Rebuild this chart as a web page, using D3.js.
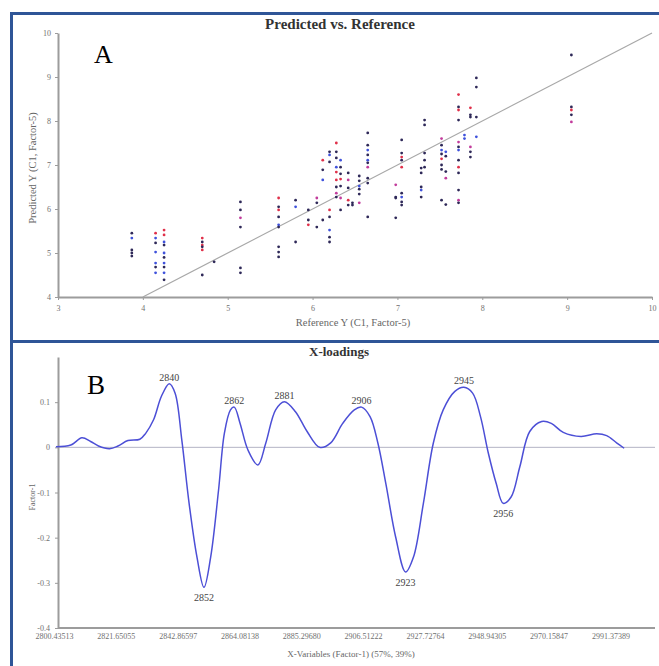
<!DOCTYPE html>
<html>
<head>
<meta charset="utf-8">
<script src="https://cdn.jsdelivr.net/npm/d3@7"></script>
<style>
  body { margin: 0; background: #fff; }
  text { font-family: "Liberation Serif", "DejaVu Serif", serif; }
</style>
</head>
<body>
<svg id="vis-svg" width="659" height="666"></svg>
<script>
// ---- Panel A: predicted vs reference (one column of predictions per reference value)
const refValues = [3.87, 4.15, 4.25, 4.7, 4.84, 5.15, 5.6, 5.8, 5.95, 6.05, 6.12, 6.2, 6.28, 6.33,
  6.42, 6.47, 6.55, 6.65, 6.98, 7.05, 7.28, 7.32, 7.52, 7.57, 7.72, 7.79, 7.86, 7.93, 9.05];
const predValues = [
  [5.45, 5.34, 5.07, 5.0, 4.93],
  [5.45, 5.34, 5.23, 5.02, 4.77, 4.68, 4.55],
  [5.52, 5.41, 5.25, 5.18, 5.0, 4.9, 4.77, 4.68, 4.55, 4.39],
  [5.34, 5.25, 5.18, 5.14, 5.07, 4.5],
  [4.8],
  [6.16, 5.98, 5.8, 5.59, 4.66, 4.55],
  [6.25, 6.05, 5.98, 5.82, 5.64, 5.59, 5.14, 5.02, 4.91],
  [6.2, 6.05, 5.25],
  [5.98, 5.75, 5.64],
  [6.25, 6.14, 5.59],
  [7.11, 6.89, 6.66, 5.75],
  [7.3, 7.23, 7.07, 5.98, 5.82, 5.52, 5.36, 5.25],
  [7.5, 7.3, 7.16, 6.95, 6.84, 6.66, 6.5, 6.36, 6.27],
  [7.11, 6.95, 6.8, 6.68, 6.52, 6.25, 5.98],
  [6.82, 6.66, 6.48, 6.2, 6.09],
  [6.14, 6.09],
  [6.75, 6.64, 6.52, 6.45, 6.34, 6.14],
  [7.73, 7.45, 7.34, 7.23, 7.11, 7.05, 6.95, 6.7, 6.59, 5.82],
  [6.55, 6.27, 6.25, 5.8],
  [7.57, 7.27, 7.18, 7.11, 6.95, 6.36, 6.27, 6.16, 6.09],
  [6.93, 6.82, 6.5, 6.43, 6.27],
  [8.02, 7.91, 7.27, 7.11, 6.95],
  [7.6, 7.45, 7.34, 7.25, 7.14, 7.0, 6.9, 6.2],
  [7.3, 7.2, 6.85, 6.7, 6.1],
  [8.6, 8.32, 8.25, 8.02, 7.52, 7.41, 7.34, 7.11, 6.95, 6.82, 6.43, 6.2, 6.14],
  [7.68, 7.6],
  [8.3, 8.14, 8.09, 7.41, 7.3, 7.18],
  [8.98, 8.77, 8.09, 7.64],
  [9.5, 8.32, 8.25, 8.14, 7.98]
];
// one letter per point: r red, m magenta, b blue, k dark
const pointColours = ['kbkkk', 'rbkbbkb', 'rrbkbkbkbk', 'rkrkrk', 'k', 'kkmkkk', 'rkrkbkkkk', 'kbk',
  'kkr', 'mkk', 'rkbk', 'kbkrkbkk', 'rkkbrrkmk', 'bkkrkmk', 'kmkrk', 'kk', 'kkbkkm', 'kkbkbkmkkk',
  'mkkk', 'kkrkrkbkk', 'kkkbk', 'kkkkk', 'mkbkrkkk', 'bkkmk', 'rkrkmkbkrkkmk', 'bb', 'rkkmkk', 'kkkb', 'kkrkm'];
const colourKey = { r: '#e0304a', m: '#c23c9c', b: '#3f52dc', k: '#2e2858' };
const xTicksA = [3, 4, 5, 6, 7, 8, 9, 10];
const yTicksA = [4, 5, 6, 7, 8, 9, 10];
const targetLine = [4, 10];

// ---- Panel B: X-loadings, factor 1
const waveNumbers = [2801.1, 2806.2, 2810, 2813, 2815.7, 2819.5, 2822.4, 2825.8, 2829.9, 2831.9,
  2834.6, 2837.3, 2840, 2842, 2844.3, 2846.8, 2849.5, 2851.9, 2854.2, 2856.9, 2858.9, 2861, 2862.3,
  2864.3, 2867, 2870.4, 2873.1, 2876.5, 2879.5, 2883.3, 2887.3, 2891.6, 2895.4, 2899.5, 2903.5, 2906,
  2908.9, 2911.6, 2914.3, 2917.7, 2921.1, 2923.8, 2927.2, 2930.6, 2934, 2938, 2941.1, 2944.1, 2946.8,
  2949.5, 2952.2, 2954.6, 2957.3, 2960.3, 2963.7, 2967.8, 2971.1, 2975.2, 2981.3, 2986.7, 2990.1,
  2993.5, 2996.1];
const loadings = [0.0015, 0.005, 0.021, 0.013, 0.003, -0.003, 0.003, 0.015, 0.018, 0.031,
  0.061, 0.113, 0.141, 0.12, 0.016, -0.124, -0.243, -0.31, -0.243, -0.095, 0.031, 0.083, 0.089,
  0.053, -0.006, -0.039, 0.009, 0.083, 0.101, 0.079, 0.035, 0, 0.01, 0.053, 0.083, 0.089,
  0.068, 0.009, -0.08, -0.199, -0.276, -0.243, -0.124, 0.009, 0.083, 0.124, 0.133, 0.12, 0.068,
  -0.013, -0.08, -0.124, -0.11, -0.043, 0.035, 0.057, 0.053, 0.033, 0.024, 0.03, 0.026,
  0.01, -0.002];
const peakLabels = ['2840', '2852', '2862', '2881', '2906', '2923', '2945', '2956'];
const xTickLabelsB = ['2800.43513', '2821.65055', '2842.86597', '2864.08138', '2885.29680',
  '2906.51222', '2927.72764', '2948.94305', '2970.15847', '2991.37389'];
const yTicksB = [0.1, 0, -0.1, -0.2, -0.3, -0.4];

const svg = d3.select('#vis-svg');
const serif = '"Liberation Serif", "DejaVu Serif", serif';
const axisGrey = '#9c9c9c';

function styleAxis(g) {
  g.attr('font-family', serif);
  g.select('.domain').attr('stroke', axisGrey).attr('stroke-width', 2);
  g.selectAll('.tick line').attr('stroke', axisGrey);
  g.selectAll('.tick text').attr('fill', '#707070').style('font-size', '8px');
}

// ---------------- Panel A
const xA = d3.scaleLinear().domain([3, 10]).range([58, 652]);
const yA = d3.scaleLinear().domain([4, 10]).range([297, 33]);

svg.append('g')
    .attr('transform', 'translate(0,297)')
    .call(d3.axisBottom(xA).tickValues(xTicksA).tickFormat(d3.format('d'))
      .tickSize(3).tickSizeOuter(0).tickPadding(5))
    .call(styleAxis);

svg.append('g')
    .attr('transform', 'translate(58,0)')
    .call(d3.axisLeft(yA).tickValues(yTicksA).tickFormat(d3.format('d'))
      .tickSize(3).tickSizeOuter(0).tickPadding(4))
    .call(styleAxis);

svg.append('line')
    .attr('x1', xA(targetLine[0])).attr('y1', yA(targetLine[0]))
    .attr('x2', xA(targetLine[1])).attr('y2', yA(targetLine[1]))
    .attr('stroke', '#a8a8a8').attr('stroke-width', 1.2);

const points = [];
refValues.forEach((ref, i) => {
  predValues[i].forEach((p, j) => points.push({ x: ref, y: p, c: pointColours[i][j] }));
});

svg.append('g').selectAll('circle')
    .data(points)
    .enter().append('circle')
    .attr('cx', d => xA(d.x))
    .attr('cy', d => yA(d.y))
    .attr('r', 1.4)
    .attr('fill', d => colourKey[d.c]);

svg.append('text')
    .attr('x', 340).attr('y', 29)
    .attr('text-anchor', 'middle')
    .style('font-size', '15px').style('font-weight', 'bold')
    .attr('fill', '#333')
    .text('Predicted vs. Reference');

svg.append('text')
    .attr('x', 353).attr('y', 326)
    .attr('text-anchor', 'middle')
    .style('font-size', '10.5px').attr('fill', '#666')
    .text('Reference Y (C1, Factor-5)');

svg.append('text')
    .attr('transform', 'translate(36,168) rotate(-90)')
    .attr('text-anchor', 'middle')
    .style('font-size', '10.5px').attr('fill', '#666')
    .text('Predicted Y (C1, Factor-5)');

svg.append('text')
    .attr('x', 94).attr('y', 63)
    .style('font-size', '26px').attr('fill', '#000')
    .text('A');

// ---------------- Panel B
const xB = d3.scaleLinear().domain([2800.43513, 3006]).range([54, 653]);
const yB = d3.scaleLinear().domain([-0.4, 0.2]).range([628, 357]);

svg.append('line')
    .attr('x1', 58).attr('x2', 655)
    .attr('y1', yB(0)).attr('y2', yB(0))
    .attr('stroke', '#b4b4c4').attr('stroke-width', 1);

const xAxisB = svg.append('g')
    .attr('transform', 'translate(0,628)')
    .call(d3.axisBottom(xB)
      .tickValues(xTickLabelsB.map(Number))
      .tickFormat((d, i) => xTickLabelsB[i])
      .tickSize(0).tickSizeOuter(0).tickPadding(5))
    .call(styleAxis);
xAxisB.select('.domain').attr('d', 'M58,0H655');

svg.append('g')
    .attr('transform', 'translate(58,0)')
    .call(d3.axisLeft(yB).tickValues(yTicksB).tickFormat(d => String(d))
      .tickSize(3).tickSizeOuter(0).tickPadding(5))
    .call(styleAxis);

const loadingData = waveNumbers.map((w, i) => ({ w: w, v: loadings[i] }));

svg.append('path')
    .datum(loadingData)
    .attr('fill', 'none')
    .attr('stroke', '#4c4fd6')
    .attr('stroke-width', 1.5)
    .attr('d', d3.line().x(d => xB(d.w)).y(d => yB(d.v)).curve(d3.curveCatmullRom));

// label each peak/trough at the extreme loading near its wavenumber
peakLabels.forEach(lbl => {
  const w0 = +lbl;
  const closest = loadingData.reduce((a, b) => Math.abs(b.w - w0) < Math.abs(a.w - w0) ? b : a);
  const sign = closest.v >= 0 ? 1 : -1;
  const near = loadingData.filter(d => Math.abs(d.w - w0) <= 6);
  const best = near.reduce((a, b) => sign * b.v > sign * a.v ? b : a);
  svg.append('text')
      .attr('x', xB(best.w))
      .attr('y', sign > 0 ? yB(best.v) - 3 : yB(best.v) + 14)
      .attr('text-anchor', 'middle')
      .style('font-size', '10px').attr('fill', '#444')
      .text(lbl);
});

svg.append('text')
    .attr('x', 339).attr('y', 356)
    .attr('text-anchor', 'middle')
    .style('font-size', '13px').style('font-weight', 'bold')
    .attr('fill', '#333')
    .text('X-loadings');

svg.append('text')
    .attr('x', 351).attr('y', 657)
    .attr('text-anchor', 'middle')
    .style('font-size', '9px').attr('fill', '#666')
    .text('X-Variables (Factor-1) (57%, 39%)');

svg.append('text')
    .attr('transform', 'translate(35,497) rotate(-90)')
    .attr('text-anchor', 'middle')
    .style('font-size', '8px').attr('fill', '#666')
    .text('Factor-1');

svg.append('text')
    .attr('x', 87).attr('y', 394)
    .style('font-size', '27px').attr('fill', '#000')
    .text('B');

// ---------------- blue frame
const frameBlue = '#2f5597';
svg.append('line').attr('x1', 10).attr('x2', 659).attr('y1', 13.5).attr('y2', 13.5)
    .attr('stroke', frameBlue).attr('stroke-width', 3);
svg.append('line').attr('x1', 11.5).attr('x2', 11.5).attr('y1', 12).attr('y2', 666)
    .attr('stroke', frameBlue).attr('stroke-width', 3);
svg.append('line').attr('x1', 10).attr('x2', 659).attr('y1', 341.5).attr('y2', 341.5)
    .attr('stroke', frameBlue).attr('stroke-width', 3);
</script>
</body>
</html>
